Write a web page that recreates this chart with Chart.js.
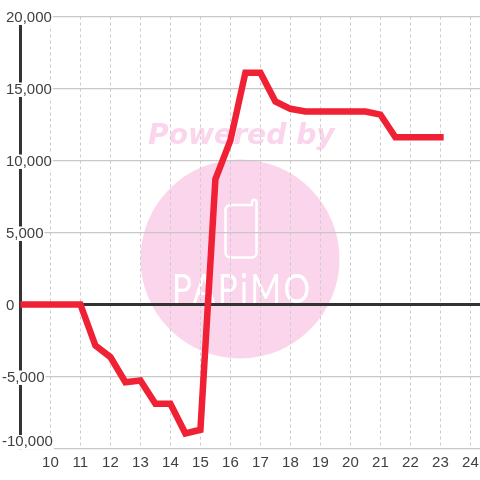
<!DOCTYPE html>
<html>
<head>
<meta charset="utf-8">
<style>
  html, body { margin: 0; padding: 0; background: #fff; }
  #wrap { width: 480px; height: 480px; }
</style>
<script src="https://cdn.jsdelivr.net/npm/chart.js@4/dist/chart.umd.min.js"></script>
</head>
<body>
<div id="wrap"><canvas id="chart" width="480" height="480"></canvas></div>
<script>
// ─── DATA ────────────────────────────────────────────────
const hours = [9, 9.5, 10, 10.5, 11, 11.5, 12, 12.5, 13, 13.5, 14, 14.5, 15, 15.5, 16, 16.5,
               17, 17.5, 18, 18.5, 19, 19.5, 20, 20.5, 21, 21.5, 22, 22.5, 23];
const values = [0, 0, 0, 0, 0, -2850, -3650, -5400, -5280, -6900, -6900, -8950, -8700, 8700, 11400, 16100,
                16100, 14100, 13590, 13400, 13400, 13400, 13400, 13400, 13190, 11620, 11620, 11620, 11620];
const xLabelTicks = [10, 11, 12, 13, 14, 15, 16, 17, 18, 19, 20, 21, 22, 23, 24];
const yLabelTicks = [20000, 15000, 10000, 5000, 0, -5000, -10000];

// ─── WATERMARK ───────────────────────────────────────────
const watermark = {
  id: 'watermark',
  beforeDraw(chart) {
    const ctx = chart.ctx;
    ctx.save();
    ctx.fillStyle = '#fbd5ec';
    ctx.beginPath();
    ctx.arc(240, 259, 99.5, 0, Math.PI * 2);
    ctx.fill();

    ctx.font = "italic bold 28.2px 'DejaVu Sans'";
    ctx.textBaseline = 'alphabetic';
    ctx.fillText('Powered by', 148, 144);

    // phone icon
    ctx.strokeStyle = '#fff';
    ctx.lineWidth = 2.5;
    ctx.lineJoin = 'round';
    ctx.lineCap = 'round';
    ctx.beginPath();
    ctx.moveTo(252, 205);
    ctx.lineTo(231, 205);
    ctx.arcTo(225.5, 205, 225.5, 211, 5);
    ctx.lineTo(225.5, 253);
    ctx.arcTo(225.5, 257.5, 231, 257.5, 5);
    ctx.lineTo(252, 257.5);
    ctx.arcTo(256.5, 257.5, 256.5, 253, 5);
    ctx.lineTo(256.5, 202);
    ctx.arc(254.25, 202, 2.25, 0, Math.PI, true);
    ctx.lineTo(252, 205);
    ctx.stroke();

    // logo lettering
    ctx.fillStyle = '#fff';
    ctx.font = "400 40px Lato";
    ctx.letterSpacing = '3px';
    ctx.translate(172, 303);
    ctx.scale(0.83, 1);
    ctx.fillText('PAPiMO', 0, 0);
    ctx.restore();
  }
};

// ─── LABEL NUDGES ────────────────────────────────────────
// negative labels hang to the left of the others, bottom label sits above its line
const nudgeLabels = {
  id: 'nudgeLabels',
  afterLayout(chart) {
    chart.scales.y.getLabelItems(chart.chartArea).forEach(item => {
      if (!item.label) return;
      const n = Number(String(item.label).replace(/,/g, ''));
      const opts = item.options;
      opts.translation[0] += n < 0 ? -4 : 0;
      opts.translation[1] += n === -10000 ? -6.5 : 1;
      // the backdrop is drawn relative to the translated text
      if (opts.backdrop) {
        opts.backdrop.top = -7;
        opts.backdrop.height = 14.5;
      }
    });
  }
};

// ─── CHART ───────────────────────────────────────────────
Chart.defaults.font.family = "'Liberation Sans', Arial, sans-serif";
Chart.defaults.font.size = 15;
Chart.defaults.color = '#404040';

const noPadding = scale => {
  scale.paddingLeft = scale.paddingRight = scale.paddingTop = scale.paddingBottom = 0;
};

new Chart(document.getElementById('chart').getContext('2d'), {
  type: 'line',
  data: {
    datasets: [{
      data: hours.map((h, i) => ({ x: h, y: values[i] })),
      borderColor: '#f02035',
      borderWidth: 6.5,
      borderCapStyle: 'square',
      borderJoinStyle: 'miter',
      fill: false,
      pointRadius: 0,
      tension: 0
    }]
  },
  options: {
    responsive: false,
    animation: false,
    layout: { padding: { top: 16.5, left: 0, right: 0, bottom: 0 } },
    plugins: { legend: { display: false }, tooltip: { enabled: false } },
    scales: {
      x: {
        type: 'linear',
        min: 9,
        max: 24.32,
        afterFit: scale => { scale.height = 31.5; noPadding(scale); },
        afterBuildTicks: scale => {
          scale.ticks = [{ value: 9 }].concat(xLabelTicks.map(value => ({ value })));
        },
        grid: { color: '#cccccc', lineWidth: 1, drawTicks: false, z: -1 },
        border: { display: false, dash: [3, 3] },
        ticks: {
          callback: v => (xLabelTicks.includes(v) ? String(v) : null),
          autoSkip: false,
          maxRotation: 0,
          padding: 5,
          color: '#404040'
        }
      },
      y: {
        type: 'linear',
        min: -10000,
        max: 20000,
        afterFit: scale => { scale.width = 20.4; noPadding(scale); },
        grid: {
          color: c => (c.tick.value === 0 ? '#333333' : '#c8c8c8'),
          lineWidth: c => (c.tick.value === 0 ? 3 : 1.3),
          drawTicks: false,
          z: -1
        },
        border: { display: true, color: '#333333', width: 3, z: 0 },
        ticks: {
          stepSize: 2500,
          autoSkip: false,
          mirror: true,
          padding: -14.4,
          callback: v => (yLabelTicks.includes(v) ? v.toLocaleString('en-US') : null),
          showLabelBackdrop: c => yLabelTicks.includes(c.tick.value),
          backdropColor: '#ffffff',
          backdropPadding: { top: 0, bottom: 0, left: 0, right: 1 },
          z: 1
        }
      }
    }
  },
  plugins: [watermark, nudgeLabels]
});
</script>
</body>
</html>
